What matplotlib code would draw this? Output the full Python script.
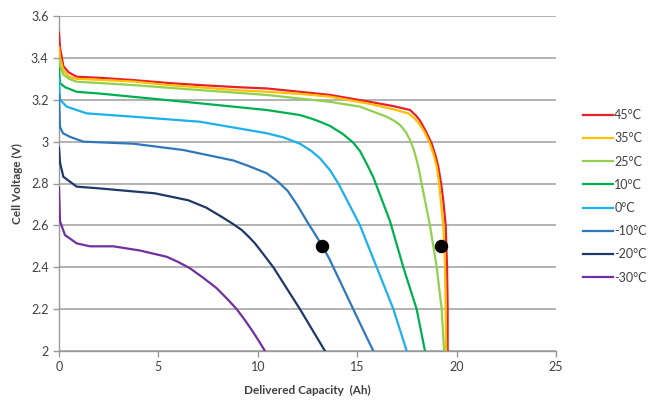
import matplotlib
matplotlib.use("Agg")
import matplotlib.pyplot as plt
from matplotlib.ticker import FuncFormatter

plt.rcParams['font.family'] = ['Lato', 'DejaVu Sans']

labels = ["45°C", "35°C", "25°C", "10°C", "0°C", "-10°C", "-20°C", "-30°C"]
colors = ["#E8202A", "#FFC000", "#92D050", "#00B050", "#1CB0EC", "#2F78BE", "#1F3868", "#7030A0"]

cap_45 = [0, 0.05, 0.22, 0.5, 0.89, 2, 3.74, 5.5, 7.09, 9, 10.45, 12.12, 13.63, 15.64, 16.8, 17.66, 17.95, 18.16, 18.45, 18.75, 18.95, 19.08, 19.22, 19.33, 19.45, 19.52, 19.55, 19.55]
v_45 = [3.52, 3.45, 3.36, 3.33, 3.31, 3.305, 3.294, 3.28, 3.27, 3.26, 3.254, 3.238, 3.223, 3.19, 3.17, 3.151, 3.125, 3.10, 3.05, 2.99, 2.93, 2.88, 2.80, 2.72, 2.6, 2.4, 2.2, 2.0]

cap_35 = [0, 0.05, 0.22, 0.5, 0.89, 2, 3.74, 5.5, 7.09, 9, 10.45, 12.12, 13.63, 15.64, 16.8, 17.57, 17.9, 18.16, 18.42, 18.66, 18.85, 19.0, 19.12, 19.2, 19.33, 19.42, 19.45, 19.47]
v_35 = [3.45, 3.40, 3.34, 3.31, 3.30, 3.295, 3.287, 3.27, 3.259, 3.245, 3.238, 3.228, 3.215, 3.18, 3.155, 3.135, 3.11, 3.08, 3.04, 2.99, 2.935, 2.88, 2.80, 2.72, 2.6, 2.4, 2.2, 2.0]

cap_25 = [0, 0.05, 0.22, 0.5, 0.89, 2, 3.74, 7.09, 10.45, 13.63, 15.14, 16.48, 16.85, 17.15, 17.45, 17.66, 17.85, 17.99, 18.12, 18.24, 18.45, 18.66, 19.0, 19.25, 19.37]
v_25 = [3.40, 3.36, 3.32, 3.30, 3.286, 3.28, 3.27, 3.246, 3.223, 3.19, 3.167, 3.119, 3.10, 3.08, 3.045, 3.008, 2.96, 2.912, 2.86, 2.8, 2.7, 2.6, 2.4, 2.2, 2.0]

cap_10 = [0, 0.05, 0.3, 0.89, 2, 3.74, 7.09, 10.45, 12.12, 12.7, 13.13, 13.63, 14.3, 14.8, 15.14, 15.5, 15.81, 16.15, 16.65, 17.32, 17.99, 18.41]
v_10 = [3.35, 3.28, 3.26, 3.238, 3.23, 3.214, 3.183, 3.151, 3.127, 3.11, 3.095, 3.075, 3.035, 2.995, 2.955, 2.89, 2.83, 2.745, 2.62, 2.4, 2.2, 2.0]

cap_0 = [0, 0.05, 0.39, 1.39, 3.74, 7.09, 10.45, 11.3, 12.12, 12.7, 13.13, 13.63, 14.05, 14.6, 15.14, 15.98, 16.82, 17.49]
v_0 = [3.30, 3.2, 3.167, 3.135, 3.119, 3.095, 3.04, 3.02, 2.99, 2.955, 2.92, 2.864, 2.8, 2.70, 2.6, 2.4, 2.2, 2.0]

cap_m10 = [0, 0.05, 0.2, 0.55, 1.22, 3.74, 6.25, 8.77, 9.5, 10.45, 11.0, 11.5, 12.0, 12.5, 12.9, 13.25, 13.6, 14.2, 15.0, 15.81]
v_m10 = [3.22, 3.07, 3.04, 3.023, 3.0, 2.99, 2.96, 2.91, 2.885, 2.849, 2.81, 2.765, 2.695, 2.615, 2.555, 2.5, 2.44, 2.32, 2.16, 2.0]

cap_m20 = [0, 0.05, 0.22, 0.89, 1.98, 4.83, 6.5, 7.4, 8.18, 8.7, 9.19, 9.55, 9.86, 10.3, 10.78, 11.45, 12.12, 12.75, 13.38]
v_m20 = [2.97, 2.9, 2.832, 2.785, 2.777, 2.753, 2.72, 2.685, 2.641, 2.61, 2.578, 2.545, 2.514, 2.46, 2.40, 2.30, 2.20, 2.10, 2.0]

cap_m30 = [0, 0.05, 0.3, 0.89, 1.56, 2.73, 4.07, 5.42, 6.0, 6.59, 7.25, 7.93, 8.45, 8.94, 9.37, 9.77, 10.07, 10.36]
v_m30 = [2.78, 2.62, 2.554, 2.514, 2.50, 2.50, 2.48, 2.45, 2.425, 2.395, 2.35, 2.30, 2.25, 2.20, 2.145, 2.09, 2.045, 2.0]

dot_x = [13.25, 19.2]
dot_y = [2.5, 2.5]

x_ticks = [0, 5, 10, 15, 20, 25]
y_ticks = [2.0, 2.2, 2.4, 2.6, 2.8, 3.0, 3.2, 3.4, 3.6]

series = [(cap_45, v_45), (cap_35, v_35), (cap_25, v_25), (cap_10, v_10),
          (cap_0, v_0), (cap_m10, v_m10), (cap_m20, v_m20), (cap_m30, v_m30)]

fig = plt.figure(figsize=(6.52, 4.03), dpi=100)
ax = fig.add_axes([59/652, 1 - 351/403, (556-59)/652, (351-16)/403])

grid_c = "#A6A6A6"
for yv in y_ticks:
    ax.axhline(yv, color=grid_c, lw=1.2, zorder=1)

for (xs, ys), c, lab in zip(series, colors, labels):
    ax.plot(xs, ys, color=c, lw=1.6, label=lab, zorder=3, clip_on=True,
            solid_joinstyle="round")

ax.scatter(dot_x, dot_y, s=75, color="black", zorder=5)

ax.set_xlim(0, 25)
ax.set_ylim(2.0, 3.6)
ax.set_xticks(x_ticks)
ax.set_yticks(y_ticks)
ax.yaxis.set_major_formatter(FuncFormatter(lambda v, p: f"{v:g}"))

for s in ["top", "right"]:
    ax.spines[s].set_visible(False)
for s in ["left", "bottom"]:
    ax.spines[s].set_color("#999999")
    ax.spines[s].set_linewidth(1.0)
ax.tick_params(axis="both", colors="#999999", labelcolor="#404040", labelsize=9, length=4, width=1.0)

ax.set_ylabel("Cell Voltage (V)", fontsize=8.5, fontweight="bold", color="#404040", labelpad=6)
ax.set_xlabel("Delivered Capacity  (Ah)", fontsize=8.5, fontweight="bold", color="#404040", labelpad=8)

leg = fig.legend(loc="upper left", bbox_to_anchor=(583/652, 1 - 109/403), frameon=False,
                 fontsize=9, handlelength=2.4, handletextpad=0.1, labelspacing=0.9,
                 borderpad=0, borderaxespad=0)
for t in leg.get_texts():
    t.set_color("#404040")

fig.savefig("out.png", dpi=100)
